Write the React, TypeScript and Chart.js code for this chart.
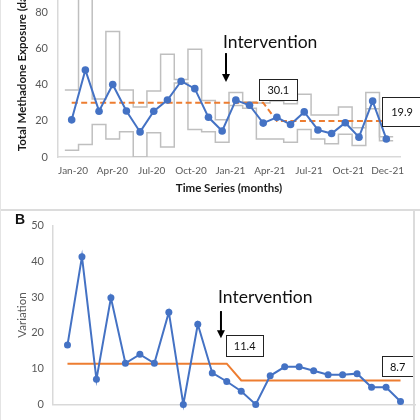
import React, { useEffect, useRef } from "react";
import { Chart, registerables } from "chart.js";

Chart.register(...registerables);

// ---------- data ----------
const months = [
  "Jan-20", "Feb-20", "Mar-20", "Apr-20", "May-20", "Jun-20",
  "Jul-20", "Aug-20", "Sep-20", "Oct-20", "Nov-20", "Dec-20",
  "Jan-21", "Feb-21", "Mar-21", "Apr-21", "May-21", "Jun-21",
  "Jul-21", "Aug-21", "Sep-21", "Oct-21", "Nov-21", "Dec-21",
];
const xTickLabels = ["Jan-20", "Apr-20", "Jul-20", "Oct-20", "Jan-21", "Apr-21", "Jul-21", "Oct-21", "Dec-21"];

const exposure = [20.6, 48.2, 25.4, 40.2, 25.5, 13.9, 25.4, 31.6, 42, 37.9, 22, 14.4,
  31.5, 28.7, 18.8, 22, 18, 25, 15, 13, 19, 11, 31, 10];
const exposureUCL = [37.2, 98, 32.2, 69.5, 37.2, 27.7, 36.6, 57, 43, 59.7, 31.3, 20.7,
  35.7, 30.5, 30, 31, 29.5, 34.8, 23.3, 23.3, 27.7, 16.2, 35.7, 11.2];
const exposureLCL = [3.7, 6.9, 18, 10, 14, 0, 13.5, 5.5, 41, 15.3, 14, 8.2,
  28.6, 27, 10, 10, 8.2, 15.3, 10, 7.3, 12.6, 6.4, 26.8, 9];
const exposureMean = [30.1, 30.1, 30.1, 30.1, 30.1, 30.1, 30.1, 30.1, 30.1, 30.1, 30.1, 30.1,
  30.1, 30.1, 30.1, 19.9, 19.9, 19.9, 19.9, 19.9, 19.9, 19.9, 19.9, 19.9];
const exposureYTicks = [0, 20, 40, 60, 80, 100];

const variation = [16.6, 41.3, 7, 29.8, 11.5, 14, 11.5, 25.8, 0, 22.4, 8.8, 6.4,
  3.7, 0, 8, 10.5, 10.5, 9.4, 8.3, 8.3, 8.6, 4.8, 4.8, 0.8];
const variationMean = [11.4, 11.4, 11.4, 11.4, 11.4, 11.4, 11.4, 11.4, 11.4, 11.4, 11.4, 11.4,
  6.7, 6.7, 6.7, 6.7, 6.7, 6.7, 6.7, 6.7, 6.7, 6.7, 6.7, 6.7];
const variationYTicks = [0, 10, 20, 30, 40, 50];

const meanLabelsA = ["30.1", "19.9"];
const meanLabelsB = ["11.4", "8.7"];

// ---------- helpers ----------
const FONT = "Lato, 'Open Sans', sans-serif";
const BLUE = "#4472C4";
const ORANGE = "#ED7D31";
const GRAY = "#BFBFBF";
const AXIS = "#D9D9D9";
const TICK = "#595959";

const points = (vals: number[]) => vals.map((y, i) => ({ x: i, y }));
const steps = (vals: number[]) =>
  vals.flatMap((y, i) => [{ x: i - 0.5, y }, { x: i + 0.5, y }]);

type Note = {
  text: { x: number; y: number; label: string };
  arrow: { x: number; y1: number; y2: number };
  boxes: { x1: number; x2: number; y1: number; y2: number; label: string }[];
};

const notesPlugin = (note: Note) => ({
  id: "notes",
  afterDatasetsDraw(chart: any) {
    const { ctx } = chart;
    const xs = chart.scales.x;
    const ys = chart.scales.y;
    ctx.save();
    // Intervention label
    ctx.fillStyle = "#111";
    ctx.font = `17.5px ${FONT}`;
    ctx.textAlign = "left";
    ctx.textBaseline = "middle";
    ctx.fillText(note.text.label, xs.getPixelForValue(note.text.x), ys.getPixelForValue(note.text.y));
    // arrow
    const ax = xs.getPixelForValue(note.arrow.x);
    const ay1 = ys.getPixelForValue(note.arrow.y1);
    const ay2 = ys.getPixelForValue(note.arrow.y2);
    ctx.strokeStyle = "#000";
    ctx.lineWidth = 2;
    ctx.beginPath();
    ctx.moveTo(ax, ay1);
    ctx.lineTo(ax, ay2 - 7);
    ctx.stroke();
    ctx.fillStyle = "#000";
    ctx.beginPath();
    ctx.moveTo(ax - 4, ay2 - 8);
    ctx.lineTo(ax + 4, ay2 - 8);
    ctx.lineTo(ax, ay2);
    ctx.closePath();
    ctx.fill();
    // boxes
    for (const b of note.boxes) {
      const x1 = xs.getPixelForValue(b.x1);
      const x2 = xs.getPixelForValue(b.x2);
      const y1 = ys.getPixelForValue(b.y1);
      const y2 = ys.getPixelForValue(b.y2);
      ctx.fillStyle = "#fff";
      ctx.fillRect(x1, y1, x2 - x1, y2 - y1);
      ctx.strokeStyle = "#222";
      ctx.lineWidth = 1;
      ctx.strokeRect(Math.round(x1) + 0.5, Math.round(y1) + 0.5, Math.round(x2 - x1), Math.round(y2 - y1));
      ctx.fillStyle = "#111";
      ctx.font = `11px ${FONT}`;
      ctx.textAlign = "center";
      ctx.textBaseline = "middle";
      ctx.fillText(b.label, (x1 + x2) / 2, (y1 + y2) / 2 + 0.5);
    }
    ctx.restore();
  },
});

function ChartA() {
  const ref = useRef<HTMLCanvasElement | null>(null);
  useEffect(() => {
    if (!ref.current) return;
    const chart = new Chart(ref.current, {
      type: "line",
      data: {
        labels: months,
        datasets: [
          {
            label: "Exposure",
            data: points(exposure),
            borderColor: BLUE,
            backgroundColor: BLUE,
            borderWidth: 2,
            pointRadius: 3.8,
            pointBorderWidth: 0,
            order: 1,
            clip: false,
          },
          {
            label: "Mean",
            data: points(exposureMean),
            borderColor: ORANGE,
            borderWidth: 2,
            borderDash: [6, 3.5],
            pointRadius: 0,
            order: 2,
          },
          {
            label: "UCL",
            data: steps(exposureUCL),
            borderColor: GRAY,
            borderWidth: 1.5,
            pointRadius: 0,
            order: 3,
          },
          {
            label: "LCL",
            data: steps(exposureLCL),
            borderColor: GRAY,
            borderWidth: 1.5,
            pointRadius: 0,
            order: 4,
          },
        ],
      },
      options: {
        responsive: false,
        animation: false,
        layout: { padding: { top: 9.5, right: 20, left: 0, bottom: 0 } },
        plugins: { legend: { display: false }, tooltip: { enabled: false } },
        scales: {
          x: {
            type: "linear",
            min: -1,
            max: 24,
            grid: { display: false, drawTicks: false },
            border: { display: true, color: AXIS, width: 1.5 },
            afterBuildTicks: (axis: any) => {
              axis.ticks = xTickLabels.map((_, i) => ({ value: 0.1 + (i * 23) / 8 }));
            },
            afterFit: (scale: any) => {
              scale.height = 53;
            },
            ticks: {
              autoSkip: false,
              maxRotation: 0,
              padding: 8,
              color: TICK,
              font: { family: FONT, size: 10 },
              callback: (_v: any, i: number) => xTickLabels[i],
            },
            title: {
              display: true,
              text: "Time Series (months)",
              color: "#1a1a1a",
              font: { family: FONT, size: 11.5, weight: "bold" },
              padding: { top: 0, bottom: 15 },
            },
          },
          y: {
            min: 0,
            max: 100,
            grid: { display: false, drawTicks: false },
            border: { display: true, color: AXIS, width: 1.5 },
            afterBuildTicks: (axis: any) => {
              axis.ticks = exposureYTicks.map((v) => ({ value: v }));
            },
            afterFit: (scale: any) => {
              scale.width = 58;
            },
            ticks: {
              padding: 10,
              color: TICK,
              font: { family: FONT, size: 11 },
            },
            title: {
              display: true,
              text: "Total Methadone Exposure (days)",
              color: "#1a1a1a",
              font: { family: FONT, size: 11.5, weight: "bold" },
              padding: { top: 15, bottom: 0 },
            },
          },
        },
      },
      plugins: [
        notesPlugin({
          text: { x: 11.06, y: 63.5, label: "Intervention" },
          arrow: { x: 11.28, y1: 57.6, y2: 41.6 },
          boxes: [
            { x1: 13.7, x2: 16.5, y1: 43.2, y2: 31.5, label: meanLabelsA[0] },
            { x1: 22.7, x2: 25.6, y1: 33, y2: 17, label: meanLabelsA[1] },
          ],
        }),
      ],
    } as any);
    return () => chart.destroy();
  }, []);
  return (
    <canvas
      ref={ref}
      width={420}
      height={250}
      style={{ position: "absolute", left: 0, top: -40, width: 420, height: 250 }}
    />
  );
}

function ChartB() {
  const ref = useRef<HTMLCanvasElement | null>(null);
  useEffect(() => {
    if (!ref.current) return;
    const chart = new Chart(ref.current, {
      type: "line",
      data: {
        labels: months,
        datasets: [
          {
            label: "Variation",
            data: points(variation),
            borderColor: BLUE,
            backgroundColor: BLUE,
            borderWidth: 2,
            pointRadius: 3.5,
            pointBorderWidth: 0,
            order: 1,
            clip: false,
          },
          {
            label: "Mean",
            data: points(variationMean),
            borderColor: ORANGE,
            borderWidth: 2,
            pointRadius: 0,
            order: 2,
          },
        ],
      },
      options: {
        responsive: false,
        animation: false,
        layout: { padding: { top: 13, right: 5, left: 0, bottom: 0 } },
        plugins: { legend: { display: false }, tooltip: { enabled: false } },
        scales: {
          x: {
            type: "linear",
            min: -1,
            max: 24,
            grid: { display: false, drawTicks: false },
            border: { display: true, color: AXIS, width: 1.5 },
            ticks: { display: false },
            afterFit: (scale: any) => {
              scale.height = 11;
            },
          },
          y: {
            min: 0,
            max: 50,
            grid: { display: false, drawTicks: false },
            border: { display: true, color: AXIS, width: 1.5 },
            afterBuildTicks: (axis: any) => {
              axis.ticks = variationYTicks.map((v) => ({ value: v }));
            },
            afterFit: (scale: any) => {
              scale.width = 53;
            },
            ticks: {
              padding: 9,
              color: TICK,
              font: { family: FONT, size: 11 },
            },
            title: {
              display: true,
              text: "Variation",
              color: TICK,
              font: { family: FONT, size: 11.5 },
              padding: { top: 15, bottom: 0 },
            },
          },
        },
      },
      plugins: [
        notesPlugin({
          text: { x: 10.4, y: 29.8, label: "Intervention" },
          arrow: { x: 10.6, y1: 26.1, y2: 18.5 },
          boxes: [
            { x1: 10.97, x2: 13.5, y1: 19.4, y2: 13.4, label: meanLabelsB[0] },
            { x1: 21.7, x2: 23.9, y1: 13.4, y2: 7.8, label: meanLabelsB[1] },
          ],
        }),
      ],
    } as any);
    return () => chart.destroy();
  }, []);
  return (
    <canvas
      ref={ref}
      width={420}
      height={210}
      style={{ position: "absolute", left: 0, top: 210, width: 420, height: 210 }}
    />
  );
}

export default function App() {
  return (
    <div
      style={{
        position: "fixed",
        left: 0,
        top: 0,
        width: 420,
        height: 420,
        overflow: "hidden",
        background: "#fff",
      }}
    >
      <ChartA />
      <ChartB />
      <div style={{ position: "absolute", left: 0, top: 209, width: 420, height: 2, background: "#DCDCDC" }} />
      <div style={{ position: "absolute", left: 0, top: 0, width: 1, height: 420, background: "#E4E4E4" }} />
      <div style={{ position: "absolute", left: 413, top: 210, width: 1.5, height: 210, background: "#DCDCDC" }} />
      <div
        style={{
          position: "absolute",
          left: 15,
          top: 211,
          fontFamily: "'Liberation Sans', Arial, sans-serif",
          fontWeight: "bold",
          fontSize: 14,
          color: "#111",
        }}
      >
        B
      </div>
    </div>
  );
}
